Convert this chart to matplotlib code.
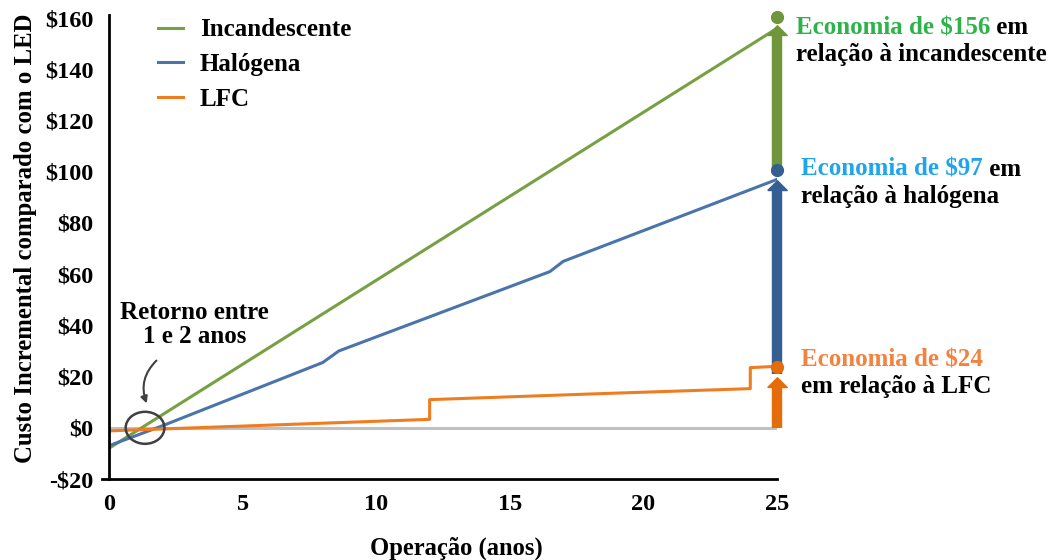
import matplotlib.pyplot as plt
from matplotlib.patches import Ellipse

# Data
years_inc = [0, 25]
cost_inc = [-8, 156]

years_hal = [0, 2, 8, 8.6, 16.5, 17, 25]
cost_hal = [-7, 0.8, 25.5, 30, 61, 65, 97]

years_lfc = [0, 4, 8, 12, 12, 18, 24, 24, 25]
cost_lfc = [-1.2, 0.3, 1.8, 3.3, 11, 13.2, 15.3, 23.5, 24]

ytick_vals = [-20, 0, 20, 40, 60, 80, 100, 120, 140, 160]
ytick_labels = ["-\\$20", "\\$0", "\\$20", "\\$40", "\\$60", "\\$80",
                "\\$100", "\\$120", "\\$140", "\\$160"]
xtick_vals = [0, 5, 10, 15, 20, 25]

# savings arrows at year 25: (shaft bottom, head base, dot)
arrow_inc = (99, 153.4, 160.5)
arrow_hal = (21, 92.8, 100.8)
arrow_lfc = (0, 16, 23.8)

c_inc, c_hal, c_lfc = "#77a043", "#4a74aa", "#ee7d22"
a_inc, a_hal, a_lfc = "#6f963a", "#365f91", "#e46c0a"
t_inc, t_hal, t_lfc = "#2db34a", "#1ea5ea", "#f4823f"

plt.rcParams["font.family"] = ["Liberation Serif", "DejaVu Serif"]
plt.rcParams["font.weight"] = "bold"

fs = 18

fig = plt.figure(figsize=(10.54, 5.6), dpi=100)
ax = fig.add_axes([0.1034, 0.1446, 0.6338, 0.8286])

ax.plot([0, 25], [0, 0], color="#c0c0c0", lw=2.2, zorder=1)
ax.plot(years_inc, cost_inc, color=c_inc, lw=2.2, label="Incandescente", zorder=2)
ax.plot(years_hal, cost_hal, color=c_hal, lw=2.2, label="Halógena", zorder=2)
ax.plot(years_lfc, cost_lfc, color=c_lfc, lw=2.2, label="LFC", zorder=2)

head = [(-1, 0), (1, 0), (0, 1.0), (-1, 0)]
for (y0, y1, yd), col in [(arrow_lfc, a_lfc), (arrow_hal, a_hal), (arrow_inc, a_inc)]:
    ax.plot([25, 25], [y0, y1], color=col, lw=7.5, solid_capstyle="butt",
            zorder=4, clip_on=False)
    ax.plot([25], [y1], marker=head, color=col, ms=14, zorder=4, clip_on=False)
    ax.plot([25], [yd], "o", color=col, ms=8.5, zorder=5, clip_on=False)

ax.set_xlim(0, 25)
ax.set_ylim(-20, 161.2)
ax.set_xticks(xtick_vals)
ax.set_yticks(ytick_vals)
ax.set_yticklabels(ytick_labels)
ax.tick_params(axis="both", length=0, labelsize=17.5, pad=11)
for lbl in ax.get_xticklabels() + ax.get_yticklabels():
    lbl.set_fontweight("bold")

for s in ["top", "right"]:
    ax.spines[s].set_visible(False)
ax.spines["left"].set_linewidth(2)
ax.spines["bottom"].set_linewidth(2)
ax.spines["bottom"].set_bounds(-0.27, 25)

ax.set_xlabel("Operação (anos)", fontsize=17.7, fontweight="bold")
ax.xaxis.set_label_coords(0.52, -0.125)
ax.set_ylabel("Custo Incremental comparado com o LED", fontsize=17.8,
              fontweight="bold")
ax.yaxis.set_label_coords(-0.108, 0.519)

leg = ax.legend(loc="upper left", bbox_to_anchor=(0.073, 0.993), frameon=False,
                handlelength=1.0, handletextpad=0.68, labelspacing=0.47,
                borderpad=0, borderaxespad=0,
                prop={"weight": "bold", "size": fs})

# payback annotation
ax.add_patch(Ellipse((1.35, 0), 1.45, 12.5, fill=False, ec="#404040", lw=1.8, zorder=6))
ax.text(3.2, 40.5, "Retorno entre\n1 e 2 anos", ha="center", va="center",
        fontsize=fs, fontweight="bold", linespacing=1.05)
ax.annotate("", xy=(1.45, 8.5), xytext=(1.85, 27),
            arrowprops=dict(arrowstyle="-|>,head_length=0.4,head_width=0.2",
                            color="#404040", lw=1.5,
                            connectionstyle="arc3,rad=0.35"))

# savings texts
def savings(x, y, colored, black, second, col):
    t1 = ax.text(x, y, colored, color=col, fontsize=fs, fontweight="bold",
                 ha="left", va="center", clip_on=False)
    if black:
        ax.annotate(" " + black, xy=(1, 0.5), xycoords=t1, va="center", ha="left",
                    fontsize=fs, fontweight="bold", color="black")
    ax.annotate(second, xy=(0, -0.18), xycoords=t1, va="top", ha="left",
                fontsize=fs, fontweight="bold", color="black")

savings(25.7, 156.3, "Economia de \\$156", "em", "relação à incandescente", t_inc)
savings(25.9, 101.0, "Economia de \\$97", "em", "relação à halógena", t_hal)
savings(25.9, 26.6, "Economia de \\$24", "", "em relação à LFC", t_lfc)

fig.savefig("out.png", dpi=100)
